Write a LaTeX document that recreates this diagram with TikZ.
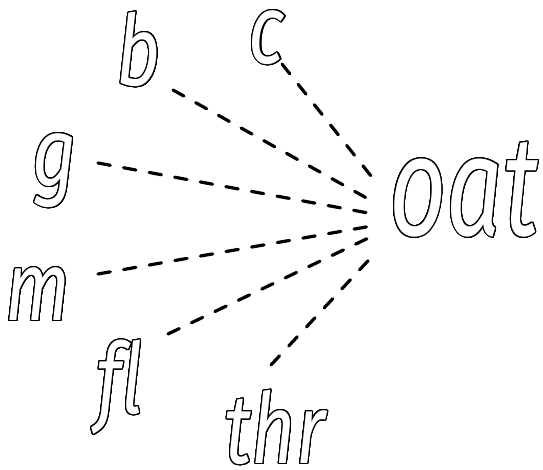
\documentclass[tikz,border=0pt]{standalone}
\usepackage{fontspec}
\usepackage{contour}
\usetikzlibrary{positioning, calc}
\newfontfamily\handfont[FakeStretch=0.78, Ligatures=NoCommon]{Fira Sans}
\newfontfamily\rimefont[FakeStretch=0.7, Ligatures=NoCommon]{Fira Sans}
\contourlength{1.1pt}
\contournumber{32}
\tikzset{
  onset/.style={inner sep=0pt, text=white,
    font=\handfont\itshape\fontsize{98}{98}\selectfont},
  rime/.style={onset, font=\rimefont\itshape\fontsize{142}{142}\selectfont},
  link/.style={line width=3.2pt, dash pattern=on 12.5pt off 13.5pt, line cap=round}
}

\begin{document}
\begin{tikzpicture}[x=1pt, y=-1pt]
  \useasboundingbox (0,0) rectangle (543,470);
  \node[rime] (oat) at (464,190) {\contour{black}{oat}};
  \coordinate (hub) at (406,220);

  \node[onset] (b) at (139,50) {\contour{black}{b}};
  \node[onset] (c) at (267,38) {\contour{black}{c}};
  \node[onset] (g) at (55,171) {\contour{black}{g}};
  \node[onset] (m) at (38,295) {\contour{black}{m}};
  \node[onset] (fl) at (120,388) {\contour{black}{fl}};
  \node[onset] (thr) at (275,428) {\contour{black}{thr}};

  \draw[link, shorten >=40pt] ([shift={(34,40)}]b.center) -- (hub);
  \draw[link, shorten >=47pt] ([shift={(15,26)}]c.center) -- (hub);
  \draw[link, shorten >=28pt] ([shift={(43,-8)}]g.center) -- (hub);
  \draw[link, shorten >=34pt] ([shift={(60,-21)}]m.center) -- (hub);
  \draw[link, shorten >=38pt] ([shift={(48,-54)}]fl.center) -- (hub);
  \draw[link, shorten >=50pt] ([shift={(-4,-63)}]thr.center) -- (hub);
\end{tikzpicture}
\end{document}
